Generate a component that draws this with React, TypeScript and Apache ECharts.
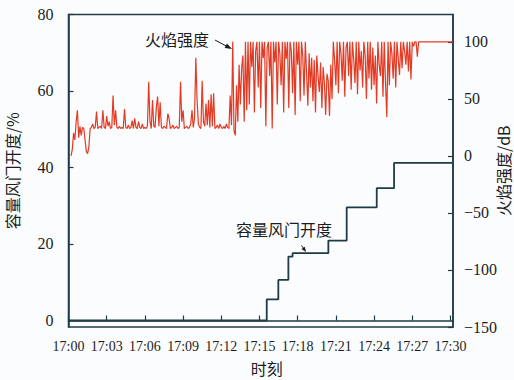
import React, { useEffect, useRef } from "react";
import * as echarts from "echarts";

// x axis: minutes after 17:00
const xTickLabels = ["17:00", "17:03", "17:06", "17:09", "17:12", "17:15", "17:18", "17:21", "17:24", "17:27", "17:30"];
const xTickStep = 3;
const xMax = 30.2;

// Flame intensity (dB, right axis), sampled every 0.1 min from 17:00.2
const flameStart = 0.2;
const flameStep = 0.1;
const flameValues = [
  0, 6, 20, 14, 30, 40, 16, 26, 18, 25,
  24, 14, 4, 2, 8, 24, 25, 28, 24, 25,
  39, 24, 25, 26, 24, 40, 25, 24, 35, 26,
  30, 24, 25, 53, 27, 40, 25, 24, 26, 24,
  25, 24, 41, 25, 24, 27, 24, 25, 31, 24,
  33, 25, 24, 30, 25, 24, 28, 24, 25, 24,
  26, 65, 30, 24, 49, 26, 25, 43, 52, 26,
  47, 25, 24, 26, 25, 24, 37, 33, 24, 25,
  27, 24, 25, 26, 24, 25, 65, 30, 40, 24,
  25, 26, 24, 25, 28, 40, 25, 33, 86, 49,
  28, 25, 24, 66, 30, 26, 46, 27, 49, 25,
  54, 26, 55, 24, 25, 27, 24, 28, 25, 24,
  26, 24, 28, 25, 24, 53, 27, 100, 22, 18,
  62, 30, 80, 45, 77, 88, 30, 100, 40, 100,
  45, 100, 78, 100, 38, 92, 100, 60, 100, 42,
  100, 86, 100, 26, 95, 100, 70, 100, 24, 100,
  82, 100, 45, 100, 90, 62, 100, 38, 100, 85,
  100, 42, 100, 92, 55, 100, 36, 100, 80, 100,
  48, 100, 88, 53, 100, 72, 44, 90, 60, 86,
  48, 84, 38, 88, 70, 56, 82, 42, 78, 64,
  36, 72, 66, 35, 80, 50, 100, 84, 62, 100,
  55, 100, 90, 66, 100, 52, 95, 100, 70, 100,
  58, 100, 85, 64, 100, 54, 100, 75, 92, 60,
  100, 88, 50, 100, 68, 100, 58, 95, 62, 88,
  46, 100, 80, 70, 100, 52, 100, 64, 34, 100,
  62, 100, 90, 68, 100, 60, 100, 85, 71, 100,
  77, 100, 92, 80, 100, 74, 100, 67, 100, 96,
  100, 100, 87, 100,
];
const flameTail = [[30.2, 100]];

// Damper opening (%, left axis): [minute of change, new level]
const damperSteps = [
  [0, 0],
  [15.57, 5.5],
  [16.48, 10.6],
  [17.27, 16.7],
  [17.6, 17.6],
  [20.41, 20.9],
  [21.85, 29.6],
  [24.21, 34.6],
  [25.57, 41.2],
  [30.2, 41.2],
];

const AXIS = "#213a47";
const TEXT = "#1c1c1c";
const SERIF = "'Liberation Serif', 'Times New Roman', serif";
const CJK = "'Noto Sans CJK SC', sans-serif";

export default function App() {
  const ref = useRef<HTMLDivElement>(null);
  useEffect(() => {
    if (!ref.current) return;
    const chart = echarts.init(ref.current, null, { renderer: "svg" });
    const flameData: number[][] = flameValues.map((v, i) => [
      +(flameStart + i * flameStep).toFixed(2),
      v,
    ]);
    flameTail.forEach((p) => flameData.push(p));

    chart.setOption({
      animation: false,
      backgroundColor: "#fbfcfe",
      grid: {
        left: 68.5,
        right: 61,
        top: 14.5,
        bottom: 53,
        show: true,
        borderColor: AXIS,
        borderWidth: 1.5,
        backgroundColor: "transparent",
        containLabel: false,
        outerBoundsMode: "none",
      },
      xAxis: {
        type: "value",
        min: 0,
        max: xMax,
        interval: xTickStep,
        name: "时刻",
        nameLocation: "middle",
        nameGap: 33,
        nameMoveOverlap: false,
        nameTextStyle: { fontFamily: CJK, fontSize: 16, color: TEXT, padding: [0, 0, 0, 12] },
        axisLine: { lineStyle: { color: AXIS, width: 1.5 } },
        axisTick: { inside: true, length: 5, lineStyle: { color: AXIS, width: 1.2 } },
        splitLine: { show: false },
        axisLabel: {
          showMaxLabel: false,
          margin: 12,
          fontFamily: SERIF,
          fontSize: 14,
          color: TEXT,
          formatter: (v: number) => xTickLabels[Math.round(v / xTickStep)] ?? "",
        },
      },
      yAxis: [
        {
          type: "value",
          position: "left",
          min: -1.7,
          max: 80,
          splitNumber: 4,
          name: "容量风门开度/%",
          nameLocation: "middle",
          nameRotate: 90,
          nameGap: 49,
          nameMoveOverlap: false,
          nameTextStyle: { fontFamily: CJK, fontSize: 16, color: TEXT },
          axisLine: { show: true, lineStyle: { color: AXIS, width: 1.5 } },
          axisTick: { show: true, inside: true, length: 5, lineStyle: { color: AXIS, width: 1.2 } },
          splitLine: { show: false },
          axisLabel: { showMinLabel: false, margin: 15, fontFamily: SERIF, fontSize: 16, color: TEXT },
        },
        {
          type: "value",
          position: "right",
          min: -150,
          max: 124,
          interval: 50,
          name: "火焰强度/dB",
          nameLocation: "middle",
          nameRotate: 90,
          nameGap: 42,
          nameMoveOverlap: false,
          nameTextStyle: { fontFamily: CJK, fontSize: 16, color: TEXT },
          axisLine: { show: true, lineStyle: { color: AXIS, width: 1.5 } },
          axisTick: { show: true, inside: true, length: 5, lineStyle: { color: AXIS, width: 1.2 } },
          splitLine: { show: false },
          axisLabel: {
            showMaxLabel: false,
            margin: 11,
            fontFamily: SERIF,
            fontSize: 16,
            color: TEXT,
            formatter: (v: number) => String(v).replace("-", "\u2212"),
          },
        },
      ],
      series: [
        {
          name: "火焰强度",
          type: "line",
          yAxisIndex: 1,
          data: flameData,
          showSymbol: false,
          symbol: "none",
          lineStyle: { color: "#e33a24", width: 1.2 },
          z: 2,
        },
        {
          name: "容量风门开度",
          type: "line",
          yAxisIndex: 0,
          step: "end",
          data: damperSteps,
          showSymbol: false,
          symbol: "none",
          lineStyle: { color: "#1f3b47", width: 1.8 },
          z: 3,
        },
      ],
      graphic: [
        {
          type: "text",
          x: 177,
          y: 38.5,
          style: {
            text: "火焰强度",
            fill: TEXT,
            font: `16px ${CJK}`,
            textAlign: "center",
            textVerticalAlign: "middle",
            align: "center",
            verticalAlign: "middle",
          },
        },
        {
          type: "line",
          shape: { x1: 215, y1: 40, x2: 228, y2: 47 },
          style: { stroke: TEXT, lineWidth: 1 },
        },
        {
          type: "polygon",
          shape: { points: [[232, 49], [224.6, 47.9], [227, 43.5]] },
          style: { fill: TEXT },
        },
        {
          type: "text",
          x: 284,
          y: 228.5,
          style: {
            text: "容量风门开度",
            fill: TEXT,
            font: `16px ${CJK}`,
            textAlign: "center",
            textVerticalAlign: "middle",
            align: "center",
            verticalAlign: "middle",
          },
        },
        {
          type: "line",
          shape: { x1: 301.5, y1: 245.5, x2: 304, y2: 249 },
          style: { stroke: TEXT, lineWidth: 1 },
        },
        {
          type: "polygon",
          shape: { points: [[306, 252], [301.5, 249], [304.8, 246.8]] },
          style: { fill: TEXT },
        },
      ],
    });
    return () => chart.dispose();
  }, []);
  return (
    <div
      ref={ref}
      style={{ position: "absolute", left: 0, top: 0, width: 514, height: 380 }}
    />
  );
}
